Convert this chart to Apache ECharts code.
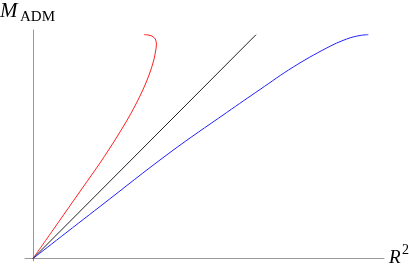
<!DOCTYPE html>
<html>
<head>
<meta charset="utf-8">
<script src="https://cdn.jsdelivr.net/npm/echarts@6/dist/echarts.min.js"></script>
<style>html,body{margin:0;padding:0;background:#fff}#c{width:409px;height:273px}</style>
</head>
<body>
<div id="c"></div>
<script>
// x = R^2 (arbitrary units), y = M_ADM (arbitrary units)
var redX   = [0, 0.20, 0.41, 0.67, 0.756, 0.82, 0.882, 0.942, 0.998, 1.05, 1.098, 1.141, 1.178, 1.208, 1.228, 1.234, 1.223, 1.19, 1.15, 1.11];
var redY   = [0, 0.285, 0.585, 0.955, 1.085, 1.185, 1.285, 1.385, 1.485, 1.585, 1.685, 1.785, 1.885, 1.985, 2.085, 2.145, 2.195, 2.225, 2.235, 2.239];
var blackX = [0, 2.23];
var blackY = [0, 2.238];
var blueX  = [0, 0.67, 1.37, 1.937, 2.27, 2.603, 2.937, 3.137, 3.27, 3.353];
var blueY  = [0, 0.52, 1.06, 1.46, 1.69, 1.915, 2.105, 2.195, 2.23, 2.238];
var yName = 'M';
var ySub = 'ADM';
var xName = 'R';
var xSup = '2';

function pairs(xs, ys){ return xs.map(function(x,i){return [x, ys[i]];}); }

var chart = echarts.init(document.getElementById('c'), null, {renderer:'canvas'});
var axisCommon = {
  type:'value',
  axisLine:{show:true, onZero:true, lineStyle:{color:'#999', width:1}},
  axisTick:{show:false}, axisLabel:{show:false}, splitLine:{show:false}
};
var serif = 'Liberation Serif';
function txt(s, x, y, size, italic){
  return {type:'text', x:x, y:y, style:{text:s, fontFamily:serif, fontSize:size,
    fontStyle: italic ? 'italic' : 'normal', fill:'#000', align:'left', verticalAlign:'middle'}};
}
chart.setOption({
  animation:false,
  grid:{left:25, right:25, top:30, bottom:12},
  xAxis: Object.assign({min:-0.08, max:3.51}, axisCommon),
  yAxis: Object.assign({min:-0.025, max:2.285}, axisCommon),
  series:[
    {type:'line', data:pairs(redX, redY), smooth:0.3, showSymbol:false, symbol:'none', lineStyle:{color:'#ff2020', width:1}},
    {type:'line', data:pairs(blackX, blackY), showSymbol:false, symbol:'none', lineStyle:{color:'#222', width:1}},
    {type:'line', data:pairs(blueX, blueY), smooth:0.4, showSymbol:false, symbol:'none', lineStyle:{color:'#2020ff', width:1}}
  ],
  graphic:[
    txt(yName, 0, 11, 21, true),
    txt(ySub, 20, 17, 15, false),
    txt(xName, 389, 258, 19, true),
    txt(xSup, 402, 250, 14, false)
  ]
});
</script>
</body>
</html>
